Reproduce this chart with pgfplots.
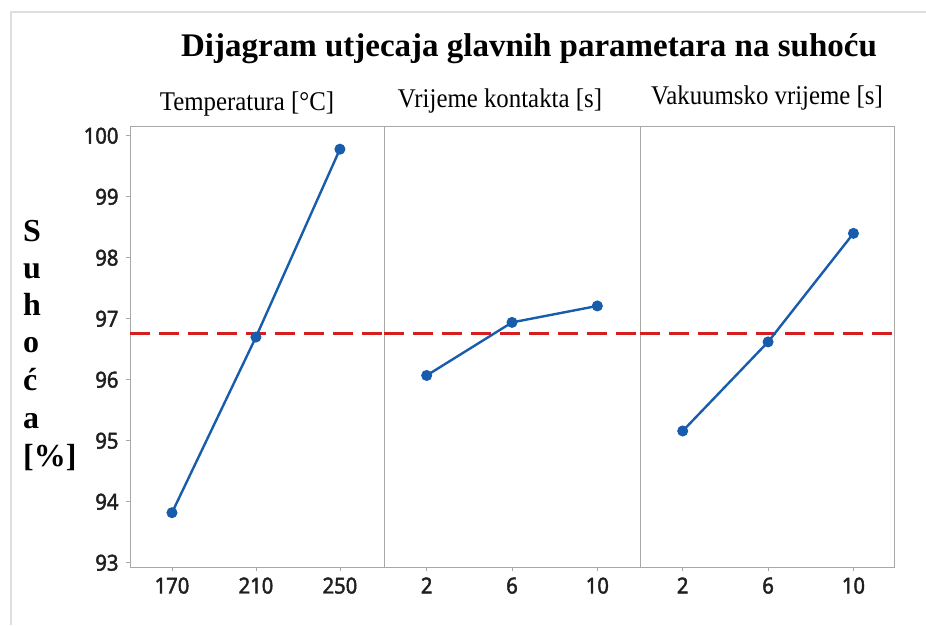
\documentclass[border=0pt]{standalone}
\usepackage{pgfplots}
\pgfplotsset{compat=1.18}
\usepackage{fontspec}
\setmainfont{Liberation Serif}
\newfontfamily\condserif[FakeStretch=0.92]{Liberation Serif}
\newfontfamily\ticksans[FakeBold=2, FakeStretch=0.92]{Noto Sans}
\definecolor{mblue}{RGB}{24,92,172}
\definecolor{mred}{RGB}{214,30,30}
\definecolor{axgray}{RGB}{168,168,168}
\definecolor{framegray}{RGB}{222,222,222}

\pgfplotsset{
  panel/.style={
    scale only axis, height=441pt, anchor=south west,
    ymin=92.93, ymax=100.16, ytick={93,94,...,100},
    axis line style={axgray, line width=1pt},
    tick style={axgray, line width=0.8pt},
    tick align=outside, major tick length=4pt,
    xtick pos=bottom, ytick pos=left,
    ticklabel style={font=\ticksans\fontsize{22}{22}\selectfont, text=black!88},
    yticklabel style={xshift=-4pt},
    xticklabel style={yshift=-3pt},
    /pgf/number format/assume math mode=true,
    /pgf/number format/set thousands separator={},
  },
  mean/.style={mred, line width=3pt, dash pattern=on 20pt off 9pt},
  eff/.style={mblue, line width=2.4pt, mark=*, mark size=5pt, mark options={solid, fill=mblue, draw=mblue, line width=1pt}},
}

\begin{document}
\begin{tikzpicture}[x=1pt,y=1pt]
\useasboundingbox (0pt,0pt) rectangle (926pt,625pt);
\draw[framegray, line width=1.5pt] (11pt,0pt) -- (11pt,613pt) -- (926pt,613pt);

\begin{axis}[panel, at={(130pt,58pt)}, width=254pt, xmin=150, xmax=271, xtick={170,210,250}]
  \addplot[mean, forget plot] coordinates {(150,96.75) (271,96.75)};
  \addplot[eff] coordinates {(170,93.82) (210,96.70) (250,99.78)};
\end{axis}

\begin{axis}[panel, at={(384pt,58pt)}, width=256pt, xmin=0, xmax=12, xtick={2,6,10}, ymajorticks=false]
  \addplot[mean, forget plot] coordinates {(0,96.75) (12,96.75)};
  \addplot[eff] coordinates {(2,96.07) (6,96.94) (10,97.21)};
\end{axis}

\begin{axis}[panel, at={(640pt,58pt)}, width=254pt, xmin=0, xmax=11.9, xtick={2,6,10}, ymajorticks=false]
  \addplot[mean, forget plot] coordinates {(0,96.75) (11.9,96.75)};
  \addplot[eff] coordinates {(2,95.16) (6,96.62) (10,98.40)};
\end{axis}

\node[font=\bfseries\fontsize{33}{33}\selectfont, anchor=base] at (529pt,568pt) {Dijagram utjecaja glavnih parametara na suhoću};

\node[font=\condserif\fontsize{27}{27}\selectfont, anchor=base] at (247pt,514pt) {Temperatura [°C]};
\node[font=\condserif\fontsize{27}{27}\selectfont, anchor=base] at (500pt,517pt) {Vrijeme kontakta [s]};
\node[font=\condserif\fontsize{27}{27}\selectfont, anchor=base] at (767pt,520pt) {Vakuumsko vrijeme [s]};

\foreach \t/\b in {S/241, u/278, h/315, o/352, ć/390, a/428, [\%]/466}{
  \node[font=\bfseries\fontsize{32}{32}\selectfont, anchor=base west, inner sep=0pt] at (23pt,625pt-\b pt) {\t};
}
\end{tikzpicture}
\end{document}
